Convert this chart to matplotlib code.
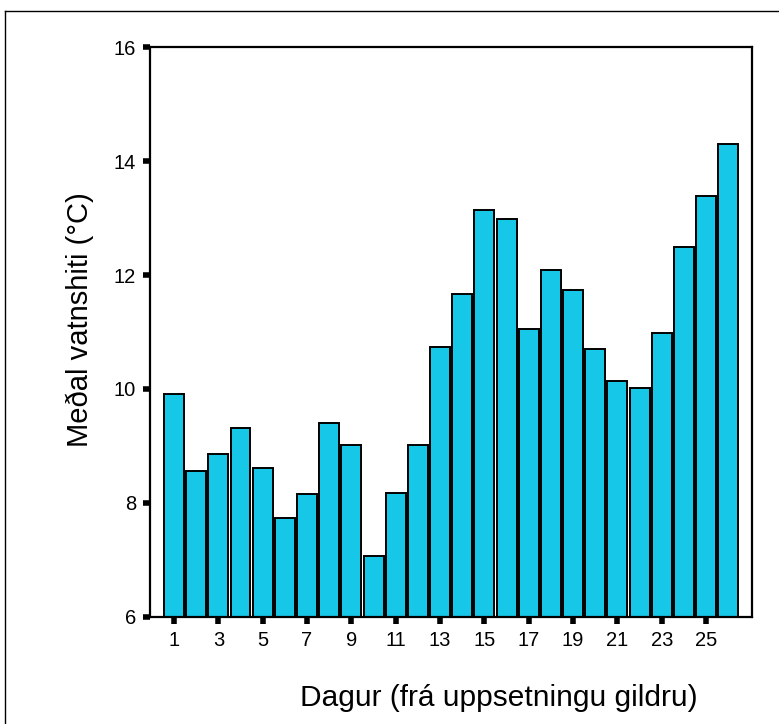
import numpy as np
import matplotlib.pyplot as plt
from matplotlib.lines import Line2D

plt.rcParams['font.family'] = ['Liberation Sans', 'DejaVu Sans']

# daily mean water temperature
days = np.arange(1, 27)
temp = [9.91, 8.56, 8.85, 9.31, 8.62, 7.73, 8.15, 9.41, 9.02, 7.07,
        8.18, 9.01, 10.74, 11.66, 13.15, 12.98, 11.06, 12.09, 11.73, 10.70,
        10.14, 10.01, 10.99, 12.49, 13.38, 14.30]
xticks = list(range(1, 26, 2))
yticks = [6, 8, 10, 12, 14, 16]

W, H = 779, 724
fig = plt.figure(figsize=(W/100, H/100), dpi=100)
ax = fig.add_axes([150/W, 1-616.7/H, (752-150)/W, (616.7-47.3)/H])

ax.bar(days, np.array(temp) - 6, bottom=6, width=0.9,
       color='#17C7E8', edgecolor='black', linewidth=1.4)

ax.set_xlim(1-24/22.17, 1+(752-174)/22.17)
ax.set_ylim(6, 16)
ax.set_xticks(xticks)
ax.set_yticks(yticks)
ax.tick_params(length=5, width=4, labelsize=14.5, pad=5)
for s in ax.spines.values():
    s.set_linewidth(1.6)

fig.text(499/W, 1-698/H, 'Dagur (frá uppsetningu gildru)', fontsize=21.5,
         ha='center', va='center')
fig.text(80/W, 1-320/H, 'Meðal vatnshiti (°C)', fontsize=21, rotation=90,
         ha='center', va='center')

# outer frame (clipped at right and bottom)
fig.add_artist(Line2D([5/W, 5/W], [0, 1-11/H], color='black', lw=1.0,
                      transform=fig.transFigure))
fig.add_artist(Line2D([5/W, 1], [1-11/H, 1-11/H], color='black', lw=1.0,
                      transform=fig.transFigure))

fig.savefig('out.png', dpi=100)
